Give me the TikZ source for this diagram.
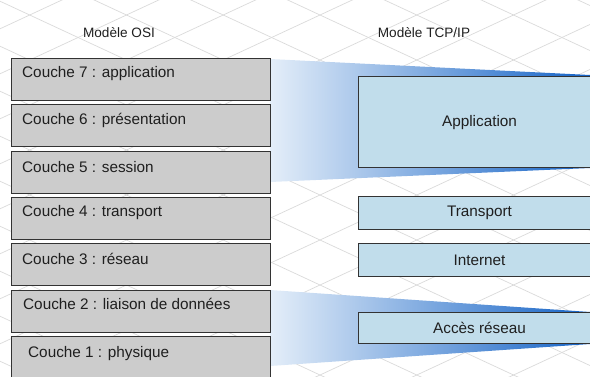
\documentclass[tikz,border=0pt]{standalone}
\usepackage{fontspec}
\setmainfont{Liberation Sans}
\usetikzlibrary{positioning,calc}
\definecolor{osigray}{HTML}{CCCCCC}
\definecolor{tcpblue}{HTML}{C1DDEB}
\definecolor{wedgelight}{HTML}{E4EEF9}
\definecolor{wedgemid}{HTML}{86B3E8}
\definecolor{wedgedark}{HTML}{1563C6}
\definecolor{gridgray}{HTML}{DADADA}
\tikzset{
  osibox/.style={draw=black!80, fill=osigray, line width=1.1pt, minimum width=259pt, minimum height=42pt, inner sep=0pt, anchor=north west},
  ositxt/.style={font=\fontsize{15.3}{18}\selectfont, text=black!88, inner sep=0pt, anchor=west},
  tcpbox/.style={draw=black!80, fill=tcpblue, line width=1.1pt, minimum width=242pt, inner sep=0pt, anchor=north west, text=black!88, font=\fontsize{15.3}{18}\selectfont},
  titre/.style={font=\fontsize{13.6}{16}\selectfont, text=black!88},
  gridline/.style={draw=gridgray, line width=0.7pt},
}

\begin{document}
\begin{tikzpicture}[x=1pt,y=-1pt]
\useasboundingbox (0,0) rectangle (590,376);
\clip (0,0) rectangle (590,376);
% fond en losanges
\foreach \k in {-7,...,8}{
  \pgfmathsetmacro{\a}{46.2+45*\k}
  \draw[gridline] (-10,{-4.65+\a}) -- (600,{279+\a});
}
\foreach \k in {-8,...,7}{
  \pgfmathsetmacro{\b}{343.8+45*\k}
  \draw[gridline] (-10,{4.65+\b}) -- (600,{-279+\b});
}
% correspondances
\shade[left color=wedgelight, middle color=wedgemid, right color=wedgedark] (270,59) -- (590,75) -- (590,168) -- (270,182) -- cycle;
\shade[left color=wedgelight, middle color=wedgemid, right color=wedgedark] (270,290) -- (590,312) -- (590,344) -- (270,366) -- cycle;
% titres
\node[titre] (osi) at (119,33) {Modèle OSI};
\node[titre] (tcp) at (424,33) {Modèle TCP/IP};
% modele OSI
\node[osibox] (c7) at (11,58) {};
\node[osibox, below=3.2pt of c7] (c6) {};
\node[osibox, below=3.2pt of c6] (c5) {};
\node[osibox, below=3.2pt of c5] (c4) {};
\node[osibox, below=3.2pt of c4] (c3) {};
\node[osibox, below=3.2pt of c3] (c2) {};
\node[osibox, below=3.2pt of c2] (c1) {};
\node[ositxt] (t7) at ($(c7.north west)+(11,16)$) {Couche 7 : application};
\node[ositxt] (t6) at ($(c6.north west)+(11,16)$) {Couche 6 : présentation};
\node[ositxt] (t5) at ($(c5.north west)+(11,16)$) {Couche 5 : session};
\node[ositxt] (t4) at ($(c4.north west)+(11,16)$) {Couche 4 : transport};
\node[ositxt] (t3) at ($(c3.north west)+(11,16)$) {Couche 3 : réseau};
\node[ositxt] (t2) at ($(c2.north west)+(12,14)$) {Couche 2 : liaison de données};
\node[ositxt] (t1) at ($(c1.north west)+(17,17.5)$) {Couche 1 : physique};
% modele TCP/IP
\node[tcpbox, minimum height=91pt] (app) at (358,76) {Application};
\node[tcpbox, minimum height=33pt, below=27.9pt of app] (trans) {Transport};
\node[tcpbox, minimum height=33pt, below=12.9pt of trans] (inet) {Internet};
\node[tcpbox, minimum height=31pt, below=34.9pt of inet] (acces) {Accès réseau};
\end{tikzpicture}
\end{document}
